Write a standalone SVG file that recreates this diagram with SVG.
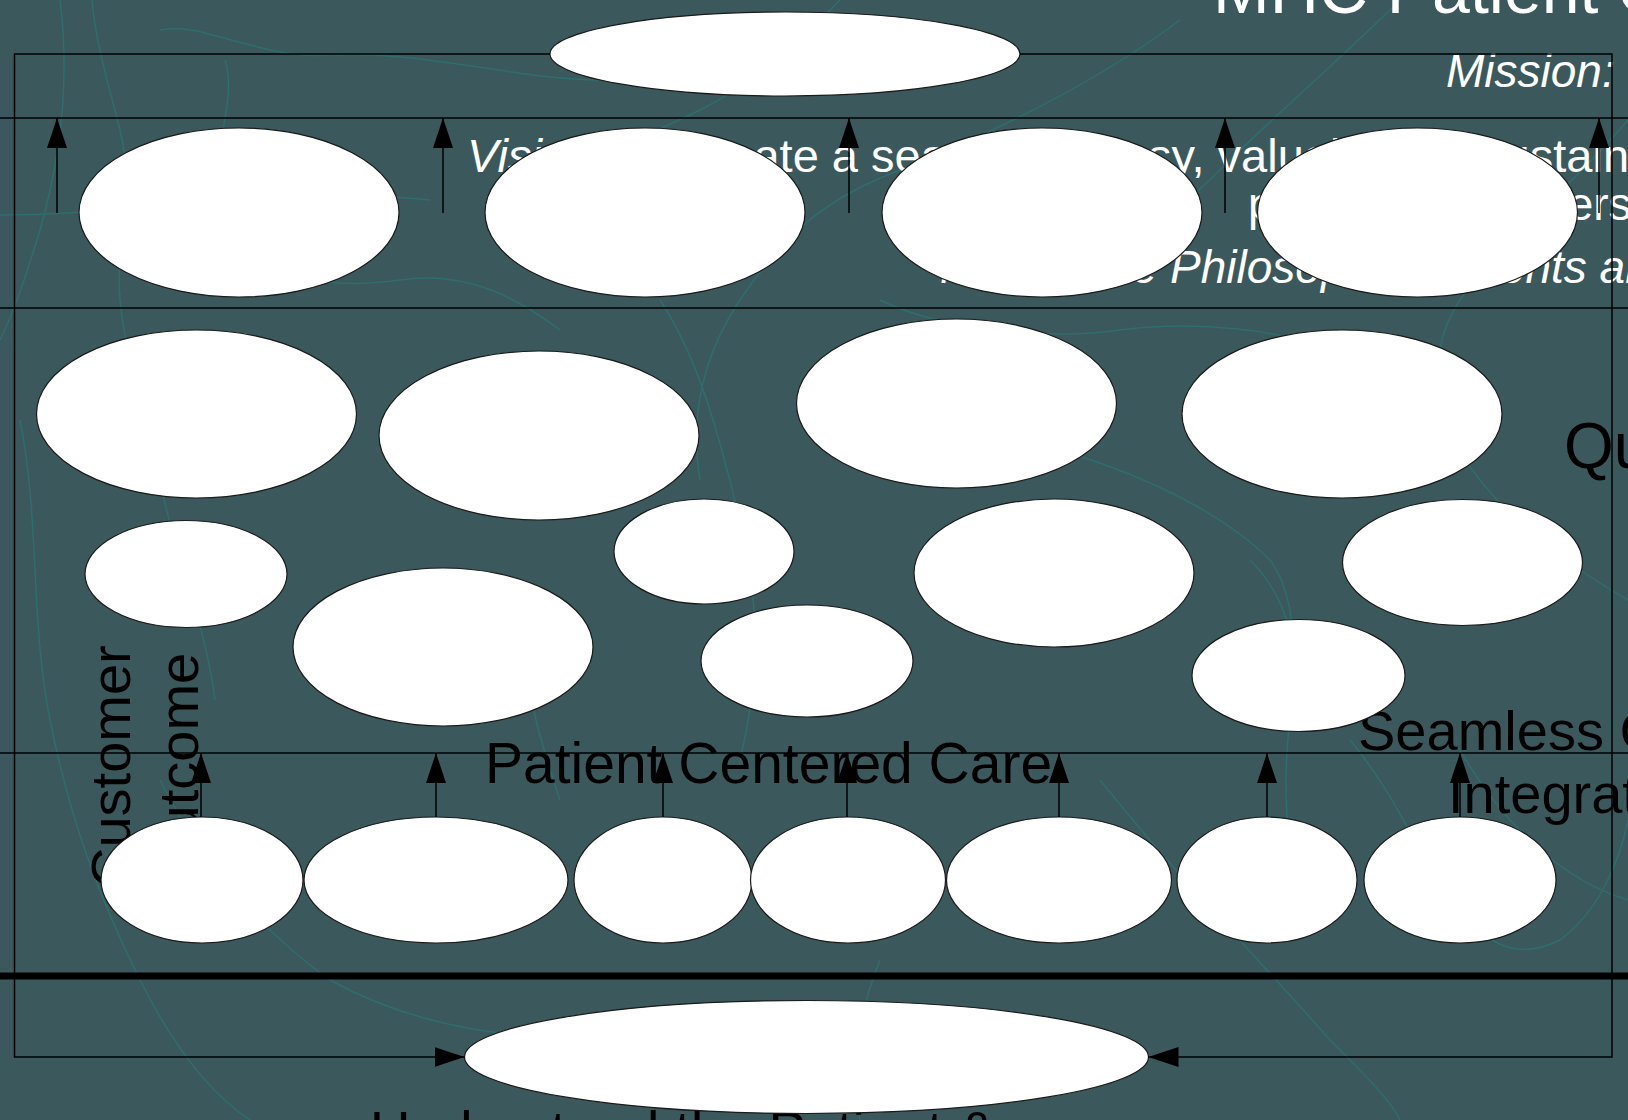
<svg xmlns="http://www.w3.org/2000/svg" width="1628" height="1120" viewBox="0 0 1628 1120">
<defs>
<style>
.bg{fill:#3b595c}
.contour{fill:none;stroke:#2f6d6e;stroke-width:1.5}
.sec{stroke:#000;stroke-width:1.5}
.thick{stroke:#000;stroke-width:7}
.node ellipse{fill:#fff;stroke:#1a1a1a;stroke-width:1.2}
.conn{fill:none;stroke:#000;stroke-width:1.5}
.wt{fill:#fff;font-family:"Liberation Sans",Arial,sans-serif;font-size:46px}
.bt{fill:#000;font-family:"Liberation Sans",Arial,sans-serif;font-size:56px}
.it{font-style:italic}
</style>
<marker id="arr" markerUnits="userSpaceOnUse" viewBox="0 0 30 20" markerWidth="30" markerHeight="20" refX="30" refY="10" orient="auto">
<path d="M0,0 L30,10 L0,20 Z" fill="#000"/>
</marker>
</defs>
<rect class="bg" x="0" y="0" width="1628" height="1120"/>
<g id="background-contours">
<path class="contour" d="M92,0 C95,40 110,90 120,130 C135,190 115,240 120,300 C125,360 150,420 160,480 C175,560 205,620 215,700"/>
<path class="contour" d="M60,0 C70,80 60,160 40,230 C25,280 10,320 0,340"/>
<path class="contour" d="M160,30 C200,20 260,60 330,55 C420,50 520,80 600,80 C700,80 760,30 820,20"/>
<path class="contour" d="M225,60 C240,110 200,160 230,220 C260,280 330,290 400,280 C470,270 520,300 560,330"/>
<path class="contour" d="M0,215 C60,215 120,210 170,205 C260,200 340,190 430,200"/>
<path class="contour" d="M840,0 C800,40 760,80 700,110 C640,140 580,160 520,200"/>
<path class="contour" d="M1180,20 C1100,80 1000,130 900,170 C820,200 780,240 740,300 C700,360 690,420 700,480"/>
<path class="contour" d="M1400,0 C1340,60 1280,110 1220,170 C1160,230 1110,250 1060,280"/>
<path class="contour" d="M1628,120 C1560,200 1500,240 1460,300 C1420,360 1440,430 1480,480 C1520,530 1560,560 1628,600"/>
<path class="contour" d="M880,300 C940,330 1050,340 1120,330 C1200,320 1280,330 1330,350"/>
<path class="contour" d="M1060,450 C1160,480 1230,520 1270,560 C1300,600 1290,660 1300,700"/>
<path class="contour" d="M660,300 C700,360 720,440 740,520 C760,600 760,680 740,760"/>
<path class="contour" d="M530,620 C520,680 540,740 560,800"/>
<path class="contour" d="M1250,560 C1290,600 1300,650 1290,720 C1280,800 1290,860 1300,900"/>
<path class="contour" d="M20,420 C40,520 30,620 50,720 C70,820 100,900 140,980 C180,1060 220,1100 250,1120"/>
<path class="contour" d="M160,780 C200,860 260,930 330,980 C420,1030 520,1040 620,1040"/>
<path class="contour" d="M1350,740 C1400,800 1420,860 1450,900 C1490,950 1520,960 1560,940 C1600,910 1620,860 1628,820"/>
<path class="contour" d="M1100,780 C1180,880 1260,960 1330,1040 C1370,1080 1390,1100 1400,1120"/>
<path class="contour" d="M880,960 C860,1010 850,1060 860,1120"/>
<path class="contour" d="M1460,750 C1500,820 1560,880 1628,900"/>
</g>
<g id="section-lines">
<line class="sec" x1="0" y1="118" x2="1628" y2="118"/>
<line class="sec" x1="0" y1="308" x2="1628" y2="308"/>
<line class="sec" x1="0" y1="753" x2="1628" y2="753"/>
<line class="thick" x1="0" y1="976" x2="1628" y2="976"/>
</g>
<g id="labels">
<text class="wt" x="1213" y="13" style="font-size:68px">MHC Patient Care Model</text>
<text class="wt it" x="1446" y="87">Mission:</text>
<text class="wt" x="467" y="172" style="font-size:47px"><tspan class="it">Vision:</tspan><tspan dx="6"> To create a seamless, easy, valuable &amp;</tspan><tspan dx="30"> sustainable</tspan></text>
<text class="wt" x="1248" y="220">patient &amp; providers</text>
<text class="wt it" x="940" y="283">MHC Care Philosophy: Patients and Families</text>
<text class="bt" x="1564" y="468" style="font-size:64px">Quality</text>
<text class="bt" x="1358" y="750">Seamless Care</text>
<text class="bt" x="1448" y="813">Integration</text>
<text class="bt" x="485" y="783" style="font-size:57px">Patient Centered Care</text>
<text class="bt" transform="translate(130,888) rotate(-90)">Customer</text>
<text class="bt" transform="translate(198,880) rotate(-90)">Outcome</text>
<text class="bt" x="370" y="1150">Understand the Patient &amp;</text>
</g>
<g id="nodes">
<g id="n-top" class="node"><ellipse cx="785" cy="54" rx="235" ry="42"/></g>
<g id="n-r1-1" class="node"><ellipse cx="239" cy="212.5" rx="160" ry="84.5"/></g>
<g id="n-r1-2" class="node"><ellipse cx="645" cy="212.5" rx="160" ry="84.5"/></g>
<g id="n-r1-3" class="node"><ellipse cx="1042" cy="212.5" rx="160" ry="84.5"/></g>
<g id="n-r1-4" class="node"><ellipse cx="1417.5" cy="212.5" rx="160" ry="84.5"/></g>
<g id="n-r2-1" class="node"><ellipse cx="196.5" cy="414" rx="160" ry="84"/></g>
<g id="n-r2-2" class="node"><ellipse cx="539" cy="435.5" rx="160" ry="84.5"/></g>
<g id="n-r2-3" class="node"><ellipse cx="956.5" cy="403.5" rx="160" ry="84.5"/></g>
<g id="n-r2-4" class="node"><ellipse cx="1342" cy="414" rx="160" ry="84"/></g>
<g id="n-r3-1" class="node"><ellipse cx="186" cy="574" rx="101" ry="53.5"/></g>
<g id="n-r3-2" class="node"><ellipse cx="704" cy="551.5" rx="90" ry="52.5"/></g>
<g id="n-r3-3" class="node"><ellipse cx="1054" cy="573" rx="140" ry="74"/></g>
<g id="n-r3-4" class="node"><ellipse cx="1462.5" cy="562.5" rx="120" ry="63"/></g>
<g id="n-r4-1" class="node"><ellipse cx="443" cy="647" rx="150" ry="79"/></g>
<g id="n-r4-2" class="node"><ellipse cx="807" cy="661" rx="106" ry="56"/></g>
<g id="n-r4-3" class="node"><ellipse cx="1298.5" cy="675.5" rx="106.5" ry="56"/></g>
<g id="n-r5-1" class="node"><ellipse cx="202" cy="880" rx="101" ry="63"/></g>
<g id="n-r5-2" class="node"><ellipse cx="436" cy="880" rx="132" ry="63"/></g>
<g id="n-r5-3" class="node"><ellipse cx="663" cy="880" rx="89" ry="63"/></g>
<g id="n-r5-4" class="node"><ellipse cx="848" cy="880" rx="97.5" ry="63"/></g>
<g id="n-r5-5" class="node"><ellipse cx="1059" cy="880" rx="112.5" ry="63"/></g>
<g id="n-r5-6" class="node"><ellipse cx="1267" cy="880" rx="90" ry="63"/></g>
<g id="n-r5-7" class="node"><ellipse cx="1460" cy="880" rx="96" ry="63"/></g>
<g id="n-bottom" class="node"><ellipse cx="806.5" cy="1057" rx="342" ry="56.5"/></g>
</g>
<g id="connectors">
<path class="conn" d="M550,54 H14.5 V1057 H464.5" marker-end="url(#arr)"/>
<path class="conn" d="M1020,54 H1612 V1057 H1148.5" marker-end="url(#arr)"/>
<path class="conn" d="M57,213 V118" marker-end="url(#arr)"/>
<path class="conn" d="M443,213 V118" marker-end="url(#arr)"/>
<path class="conn" d="M849,213 V118" marker-end="url(#arr)"/>
<path class="conn" d="M1225,213 V118" marker-end="url(#arr)"/>
<path class="conn" d="M1599,213 V118" marker-end="url(#arr)"/>
<path class="conn" d="M201,817 V753" marker-end="url(#arr)"/>
<path class="conn" d="M436,817 V753" marker-end="url(#arr)"/>
<path class="conn" d="M663,817 V753" marker-end="url(#arr)"/>
<path class="conn" d="M847,817 V753" marker-end="url(#arr)"/>
<path class="conn" d="M1059,817 V753" marker-end="url(#arr)"/>
<path class="conn" d="M1267,817 V753" marker-end="url(#arr)"/>
<path class="conn" d="M1460,817 V753" marker-end="url(#arr)"/>
</g>
</svg>
